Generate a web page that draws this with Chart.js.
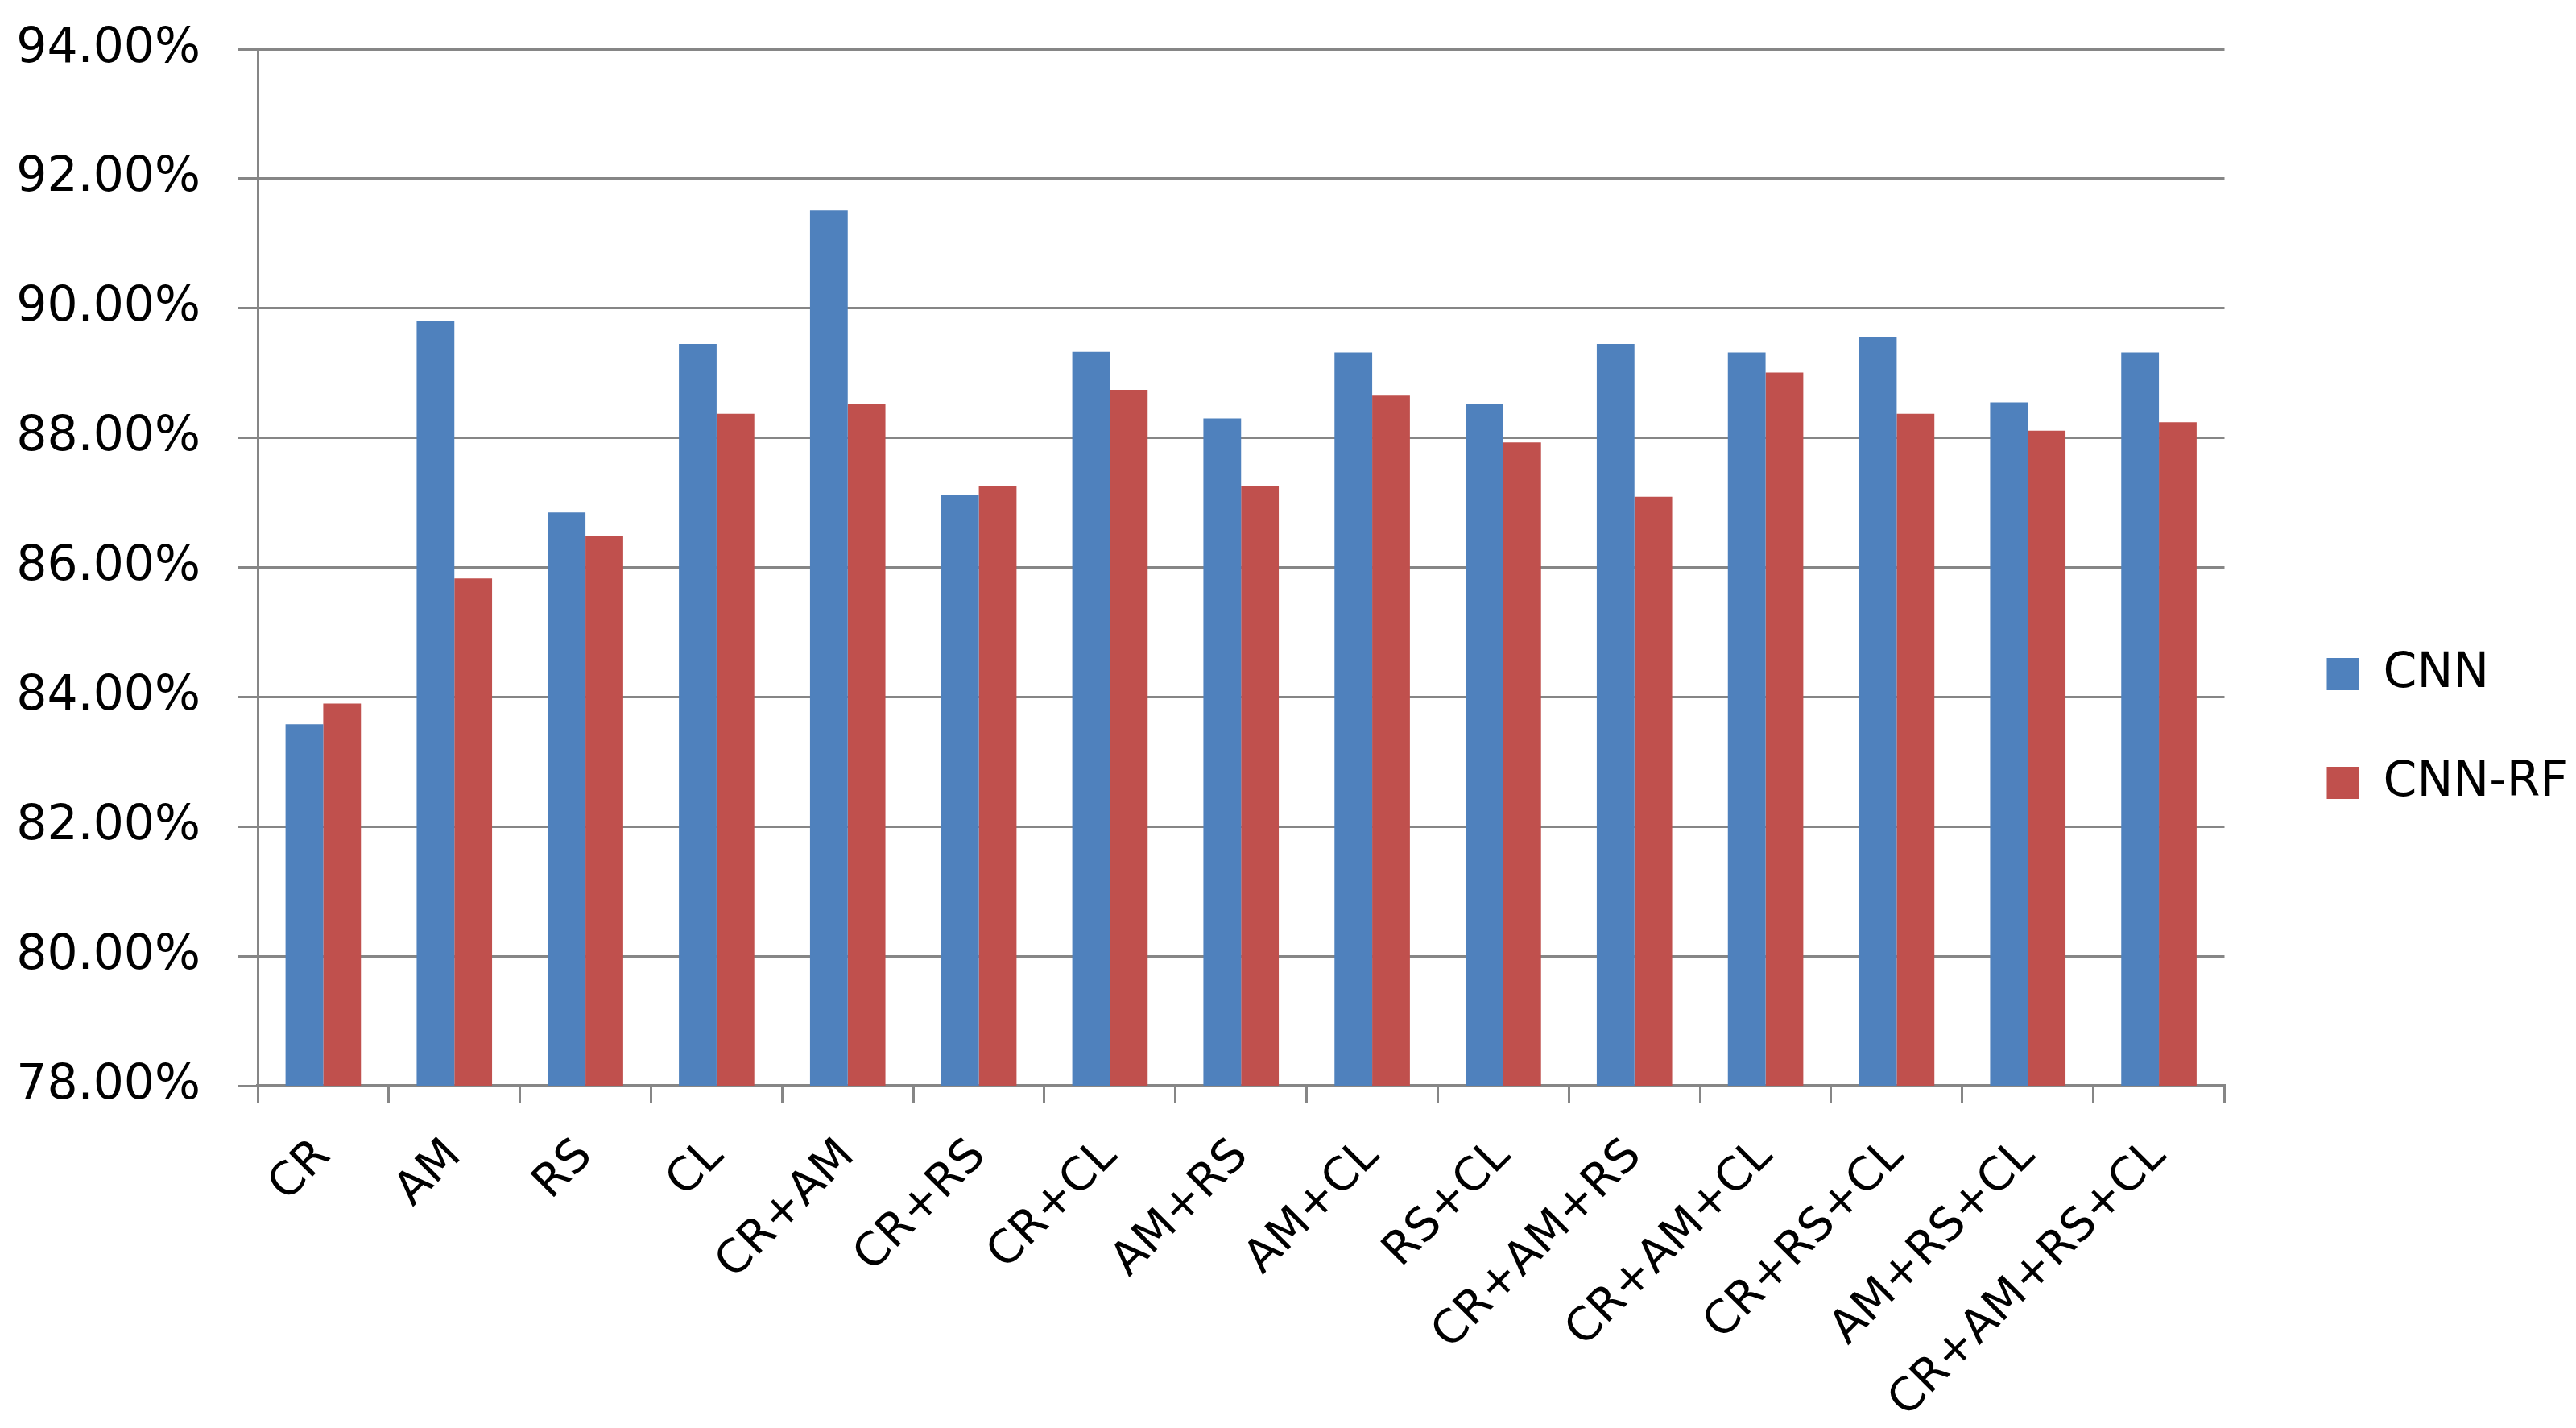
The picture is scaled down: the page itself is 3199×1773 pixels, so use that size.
<!DOCTYPE html>
<html>
<head>
<meta charset="utf-8">
<script src="https://cdn.jsdelivr.net/npm/chart.js@4.4.1/dist/chart.umd.min.js"></script>
<style>
    html, body { margin: 0; padding: 0; background: #fff; }
    #wrap { width: 3199px; height: 1773px; }
</style>
</head>
<body>
<div id="wrap"><canvas id="myChart" width="3199" height="1773"></canvas></div>
<script>
var labels = ['CR', 'AM', 'RS', 'CL', 'CR+AM', 'CR+RS', 'CR+CL', 'AM+RS', 'AM+CL', 'RS+CL',
    'CR+AM+RS', 'CR+AM+CL', 'CR+RS+CL', 'AM+RS+CL', 'CR+AM+RS+CL'];
var cnn = [83.58, 89.80, 86.85, 89.45, 91.51, 87.12, 89.33, 88.30, 89.32, 88.52,
    89.45, 89.32, 89.55, 88.55, 89.32];
var cnnRf = [83.90, 85.83, 86.49, 88.37, 88.52, 87.26, 88.74, 87.26, 88.65, 87.93,
    87.09, 89.01, 88.37, 88.11, 88.24];
var yMin = 78, yMax = 94, yStep = 2;

var gridColor = '#868686';
var fontFamily = 'DejaVu Sans';

var ctx = document.getElementById('myChart').getContext('2d');
var myChart = new Chart(ctx, {
    type: 'bar',
    data: {
        labels: labels,
        datasets: [{
            label: 'CNN',
            data: cnn,
            backgroundColor: '#4F81BD',
            borderWidth: 0,
            categoryPercentage: 0.575,
            barPercentage: 1.0
        },
            {
                label: 'CNN-RF',
                data: cnnRf,
                backgroundColor: '#C0504D',
                borderWidth: 0,
                categoryPercentage: 0.575,
                barPercentage: 1.0
            }]
    },
    options: {
        responsive: false,
        animation: false,
        layout: {padding: {top: 36, left: 0, right: 0, bottom: 0}},
        scales: {
            x: {
                grid: {
                    display: true,
                    drawOnChartArea: false,
                    drawTicks: true,
                    tickLength: 22,
                    color: gridColor,
                    lineWidth: 3,
                    offset: true
                },
                border: {display: true, color: gridColor, width: 4},
                ticks: {
                    color: '#000',
                    minRotation: 45,
                    maxRotation: 45,
                    autoSkip: false,
                    padding: 32,
                    font: {family: fontFamily, size: 57}
                },
                afterFit: function (s) { s.height = 425; }
            },
            y: {
                min: yMin,
                max: yMax,
                grid: {
                    color: gridColor,
                    lineWidth: 3,
                    drawTicks: true,
                    tickLength: 25
                },
                border: {display: true, color: gridColor, width: 3},
                ticks: {
                    stepSize: yStep,
                    color: '#000',
                    padding: 46,
                    font: {family: fontFamily, size: 60},
                    callback: function (v) { return v.toFixed(2) + '%'; }
                },
                afterFit: function (s) {
                    s.width = 320;
                    s.paddingTop = 61;
                    s.paddingBottom = 0;
                }
            },
            gap: {
                type: 'linear',
                position: 'right',
                display: true,
                grid: {display: false},
                border: {display: false},
                ticks: {display: false},
                afterFit: function (s) { s.width = 52; }
            }
        },
        plugins: {
            legend: {
                display: true,
                position: 'right',
                labels: {
                    boxWidth: 40,
                    boxHeight: 40,
                    padding: 75,
                    color: '#000',
                    font: {family: fontFamily, size: 60}
                }
            },
            tooltip: {enabled: false}
        }
    }
});
</script>
</body>
</html>
